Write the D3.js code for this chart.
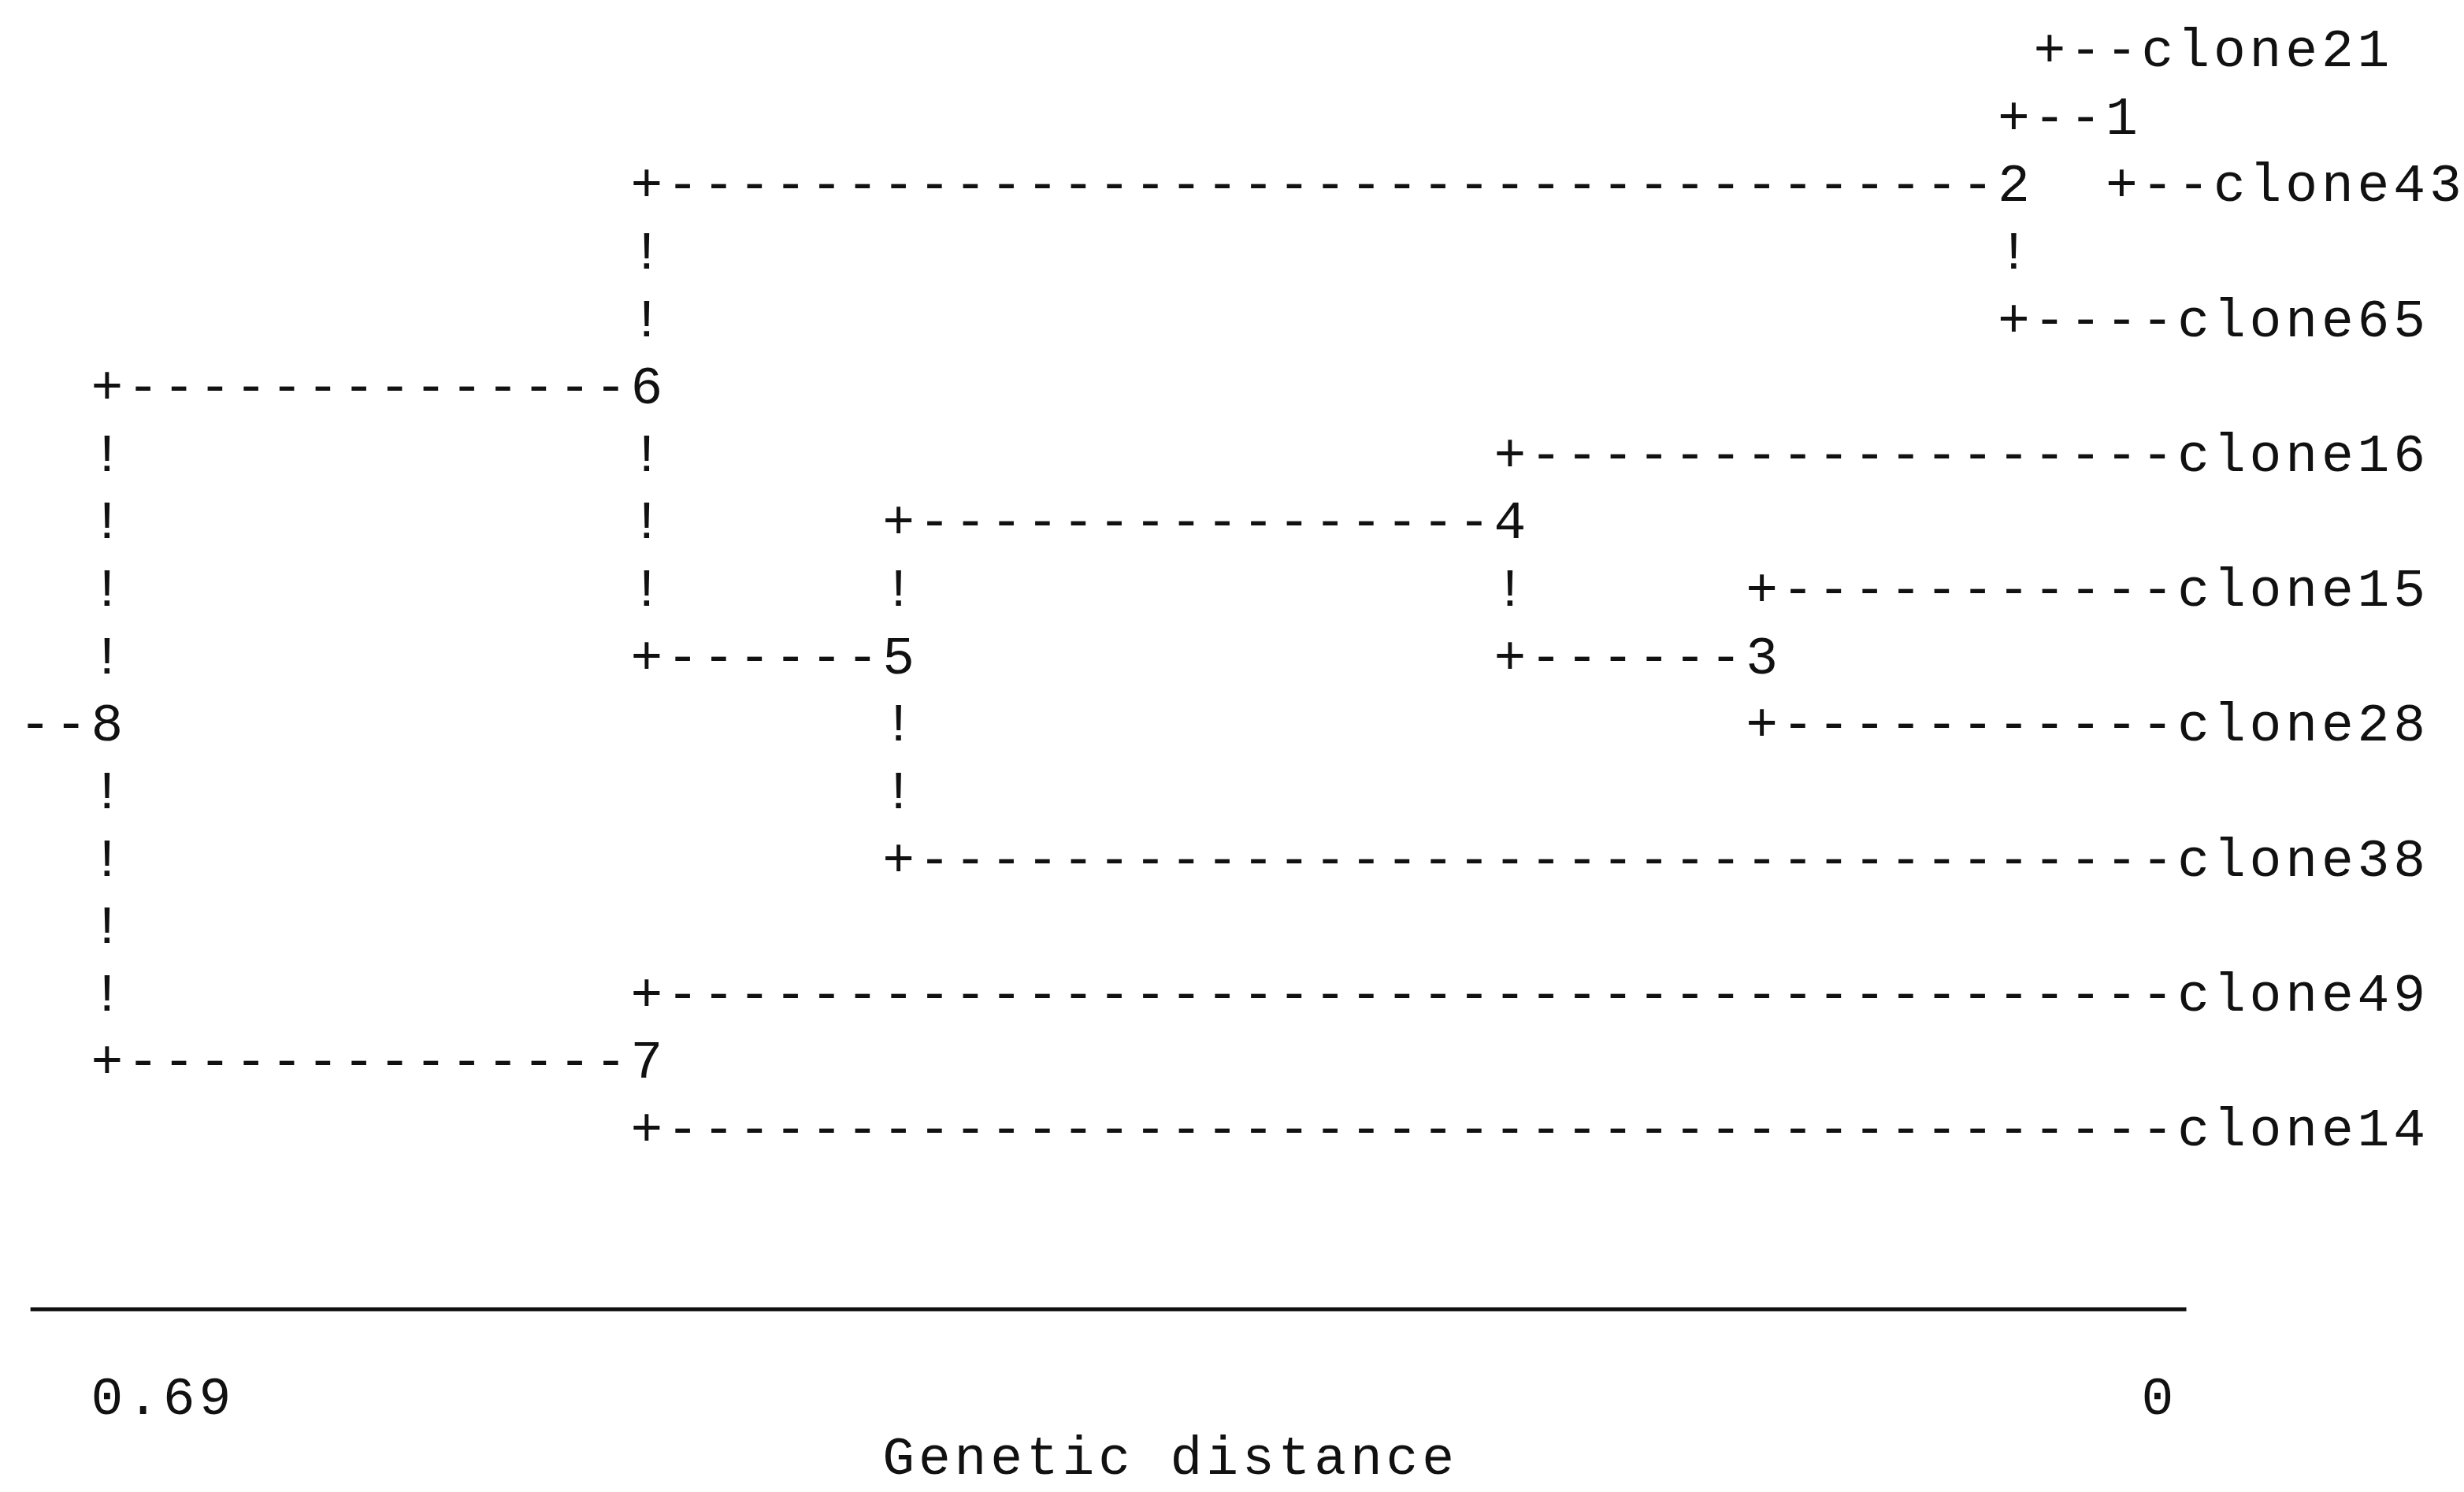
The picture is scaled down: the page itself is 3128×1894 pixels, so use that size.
<!DOCTYPE html>
<html>
<head>
<meta charset="utf-8">
<script src="https://cdn.jsdelivr.net/npm/d3@7"></script>
<style>
  body { margin: 0; background: #fff; }
  text { font-family: "Liberation Mono", "DejaVu Sans Mono", monospace; fill: #111; }
</style>
</head>
<body>
<div id="container"></div>
<script>
// internal nodes, numbered as in the printout
const nodeIds = ["1", "2", "3", "4", "5", "6", "7", "8"]
const nodeParents = ["2", "6", "4", "5", "6", "8", "8", null]
const nodeRows = [1, 2, 9, 7, 9, 5, 15, 10]
const nodeDistances = [0.012, 0.048, 0.133, 0.218, 0.424, 0.508, 0.508, 0.69]

// leaves, top to bottom
const leafNames = ["clone21", "clone43", "clone65", "clone16", "clone15", "clone28", "clone38", "clone49", "clone14"]
const leafParents = ["1", "1", "2", "4", "3", "3", "5", "7", "7"]
const leafRows = [0, 2, 4, 6, 8, 10, 12, 14, 16]
// where each tip branch starts / ends (genetic distance), as it was printed
const leafStarts = [0.036, 0.012, 0.048, 0.218, 0.133, 0.133, 0.424, 0.508, 0.508]
const leafEnds = [0.012, -0.012, 0, 0, 0, 0, 0, 0, 0]

// distance scale under the tree
const scaleTicks = [0.69, 0]
const scaleTickLabels = ["0.69", "0"]
const axisTitle = "Genetic distance"

function drawTree() {
    const width = 3128, height = 1894

    let svg = d3.select("#container")
        .append("svg")
        .attr("width", width)
        .attr("height", height)

    svg.append("rect").attr("width", width).attr("height", height).attr("fill", "#fff")

    // distance -> character column -> pixel
    const distToCol = d3.scaleLinear().domain([0.69, 0]).range([2, 59])
    const colX = d3.scaleLinear().domain([0, 59]).range([44.6, 2739])
    const rowY = d3.scaleLinear().domain([0, 16]).range([84, 1454])
    const col = d => Math.round(distToCol(d))

    let cells = []
    let taken = new Set()
    function put(c, y, ch) {
        cells.push({ c: c, y: y, ch: ch })
        taken.add(c + ":" + y)
    }
    function putString(s, c, y) {
        [...s].forEach((ch, i) => put(c + i, y, ch))
    }

    // horizontal branches of internal nodes
    nodeIds.forEach((id, i) => {
        let y = rowY(nodeRows[i])
        let to = col(nodeDistances[i])
        if (nodeParents[i] == null) {
            // root stem
            put(to - 2, y, "-")
            put(to - 1, y, "-")
        } else {
            let from = col(nodeDistances[nodeIds.indexOf(nodeParents[i])])
            put(from, y, "+")
            for (let c = from + 1; c < to; c++) put(c, y, "-")
        }
        put(to, y, id)
    })

    // tip branches + names
    leafNames.forEach((name, i) => {
        let y = rowY(leafRows[i])
        let from = col(leafStarts[i])
        let tip = col(leafEnds[i])
        put(from, y, "+")
        for (let c = from + 1; c <= tip; c++) put(c, y, "-")
        putString(name, tip + 1, y)
    })

    // vertical connectors
    nodeIds.forEach((id, i) => {
        let c = col(nodeDistances[i])
        let rows = nodeRows.filter((r, j) => nodeParents[j] == id)
            .concat(leafRows.filter((r, j) => leafParents[j] == id))
        for (let r = d3.min(rows); r <= d3.max(rows); r++) {
            if (!taken.has(c + ":" + rowY(r))) put(c, rowY(r), "!")
        }
    })

    // scale bar
    svg.append("line")
        .attr("x1", colX(distToCol(0.69) - 2.13))
        .attr("x2", colX(distToCol(0) + 0.8))
        .attr("y1", 1662)
        .attr("y2", 1662)
        .attr("stroke", "#111")
        .attr("stroke-width", 5)

    scaleTicks.forEach((t, i) => putString(scaleTickLabels[i], col(t), 1795))
    putString(axisTitle, 24, 1871)

    svg.selectAll("text.cell")
        .data(cells)
        .join("text")
        .attr("class", "cell")
        .attr("x", d => colX(d.c))
        .attr("y", d => d.y)
        .attr("text-anchor", "middle")
        .style("font-size", "68px")
        .text(d => d.ch)
}

drawTree()
</script>
</body>
</html>
